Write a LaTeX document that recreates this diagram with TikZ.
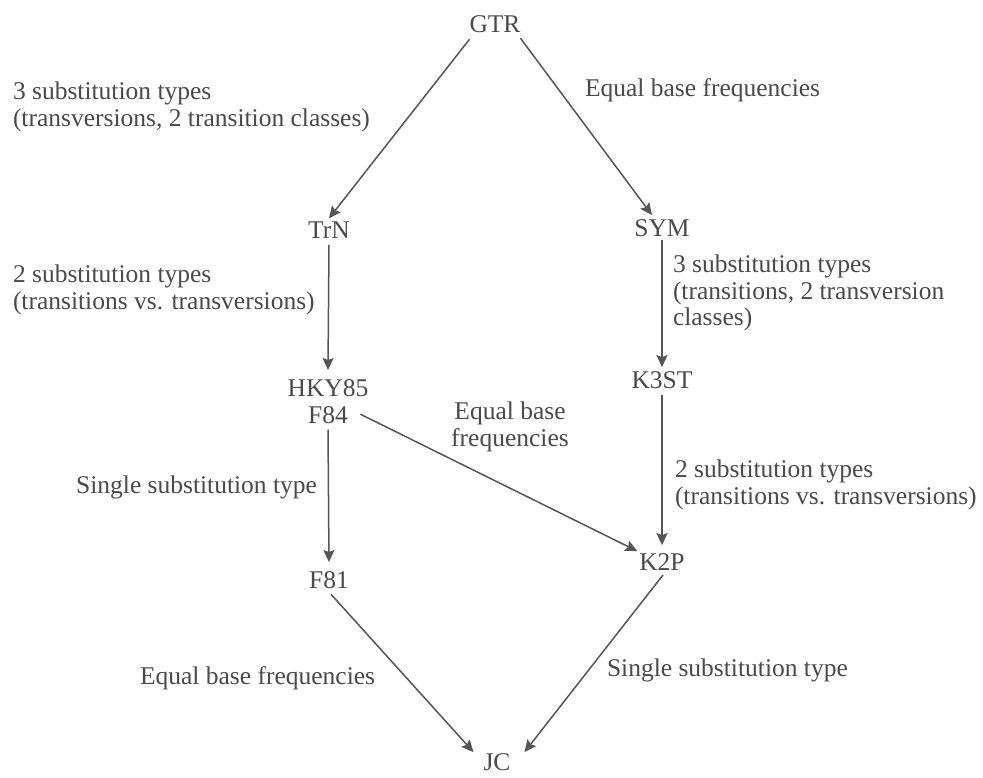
\documentclass[tikz,border=0pt]{standalone}
\usepackage{fontspec}
\setmainfont{Liberation Serif}
\usetikzlibrary{arrows.meta}
\definecolor{ink}{HTML}{4A4A4A}
\definecolor{edgecol}{HTML}{555555}
\begin{document}
\begin{tikzpicture}[x=1pt,y=-1pt,
  font=\fontsize{25.5}{26.5}\selectfont, text=ink,
  model/.style={inner sep=0pt, outer sep=0pt, anchor=base},
  lbl/.style={inner sep=0pt, outer sep=0pt, align=left},
  conn/.style={draw=edgecol, line width=1.5pt, -{Stealth[length=12pt,width=11pt,inset=2pt]}}]
\useasboundingbox[fill=white] (0,0) rectangle (983,777);
% models
\node[model] (GTR) at (495,32) {GTR};
\node[model] (TrN) at (329,238) {TrN};
\node[model] (SYM) at (662,236) {SYM};
\node[inner sep=0pt, outer sep=0pt, align=center, anchor=north] (HKY) at (328,380) {HKY85\\F84};
\node[model] (K3ST) at (662,388) {K3ST};
\node[model] (F81) at (329,588) {F81};
\node[model] (K2P) at (662,570) {K2P};
\node[model] (JC) at (497,770) {JC};
% labels
\node[lbl, anchor=west] (l1) at (13,107) {3 substitution types\\(transversions, 2 transition classes)};
\node[lbl, anchor=west] (l2) at (585,90) {Equal base frequencies};
\node[lbl, anchor=west] (l3) at (13,290) {2 substitution types\\(transitions vs. transversions)};
\node[lbl, anchor=west] (l4) at (673,293) {3 substitution types\\(transitions, 2 transversion\\classes)};
\node[lbl, anchor=east] (l5) at (317,487) {Single substitution type};
\node[inner sep=0pt, outer sep=0pt, align=center] (l6) at (510,427) {Equal base\\frequencies};
\node[lbl, anchor=west] (l7) at (675,485) {2 substitution types\\(transitions vs. transversions)};
\node[lbl, anchor=west] (l8) at (140,678) {Equal base frequencies};
\node[lbl, anchor=west] (l9) at (607,670) {Single substitution type};
% connectors
\draw[conn] ([yshift=-7pt]GTR.south west) -- ([yshift=3pt]TrN.north);
\draw[conn] ([yshift=-6pt]GTR.south east) -- ([xshift=-10pt,yshift=4pt]SYM.north);
\draw[conn] ([yshift=-7pt]TrN.south) -- ([yshift=10pt]HKY.north);
\draw[conn] ([yshift=-4pt]SYM.south) -- ([yshift=4pt]K3ST.north);
\draw[conn] ([yshift=-6pt]HKY.south) -- ([yshift=9pt]F81.north);
\draw[conn] ([xshift=-8pt,yshift=9.5pt]HKY.south east) -- ([xshift=-2pt,yshift=2pt]K2P.north west);
\draw[conn] ([yshift=-7pt]K3ST.south) -- ([yshift=8pt]K2P.north);
\draw[conn] ([xshift=2pt,yshift=-6pt]F81.south) -- ([xshift=-10pt,yshift=1pt]JC.north west);
\draw[conn] ([xshift=1pt,yshift=-5pt]K2P.south) -- ([xshift=14pt,yshift=1pt]JC.north east);
\end{tikzpicture}
\end{document}
